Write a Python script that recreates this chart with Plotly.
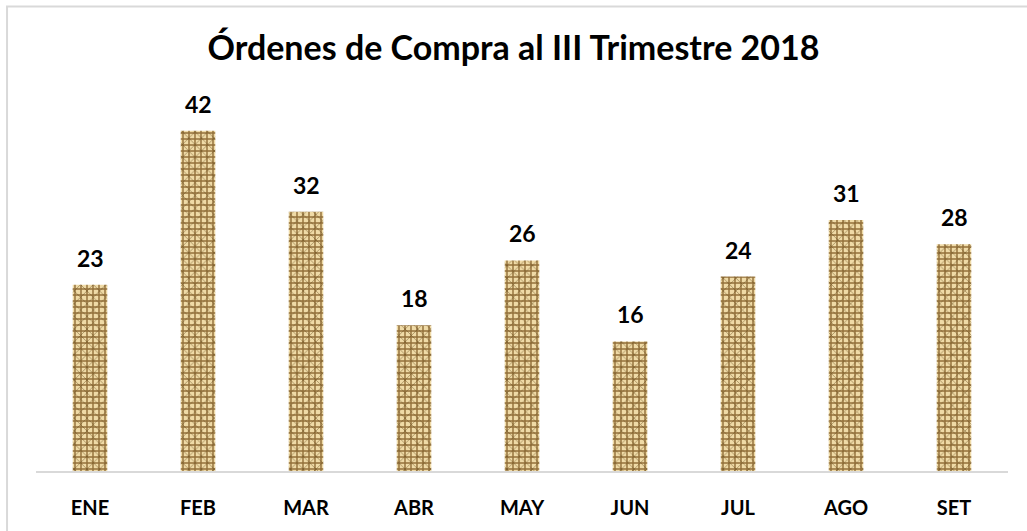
import plotly.graph_objects as go

months = ["ENE", "FEB", "MAR", "ABR", "MAY", "JUN", "JUL", "AGO", "SET"]
orders = [23, 42, 32, 18, 26, 16, 24, 31, 28]
title_text = "Órdenes de Compra al III Trimestre 2018"

fig = go.Figure()
# woven texture: base cross-hatch
fig.add_trace(go.Bar(
    x=months, y=orders,
    width=0.32,
    marker=dict(
        color="#ecd8a4",
        line=dict(width=0),
        pattern=dict(shape="+", fgcolor="#93703a", bgcolor="#efdaa6",
                     size=6, solidity=0.42, fillmode="replace"),
    ),
    hoverinfo="x+y",
))
# speckle overlay for burlap look
fig.add_trace(go.Bar(
    x=months, y=orders,
    width=0.32,
    marker=dict(
        color="rgba(0,0,0,0)",
        line=dict(width=0),
        pattern=dict(shape="x", fgcolor="rgba(95,66,20,0.5)", bgcolor="rgba(0,0,0,0)",
                     size=9, solidity=0.18, fillmode="replace"),
    ),
    hoverinfo="skip",
))

for m, v in zip(months, orders):
    fig.add_annotation(x=m, y=v, text=f"<b>{v}</b>", showarrow=False,
                       yanchor="bottom", yshift=11,
                       font=dict(family="Lato", size=23, color="#000000"))

fig.add_shape(type="rect", xref="paper", yref="paper",
              x0=-0.0298, x1=1.04, y0=-0.3, y1=1.252,
              line=dict(color="#d9d9d9", width=2), layer="below")

fig.update_layout(
    width=1027, height=531,
    margin=dict(l=36, r=19, t=100, b=56),
    paper_bgcolor="white", plot_bgcolor="white",
    showlegend=False,
    barmode="overlay",
    title=dict(text=f"<b>{title_text}</b>", x=0.5, xanchor="center",
               y=0.91, yanchor="middle",
               font=dict(family="Lato", size=34, color="#000000")),
    xaxis=dict(showline=True, linecolor="#d9d9d9", linewidth=2,
               ticks="", showgrid=False, ticklabelstandoff=18,
               tickfont=dict(family="Lato", size=20, color="#000000", weight="bold")),
    yaxis=dict(range=[0, 45.8], visible=False, showgrid=False),
)

fig.write_html("out.html", config={"displayModeBar": False},
               post_script="document.body.style.margin='0';document.body.style.padding='0';")
